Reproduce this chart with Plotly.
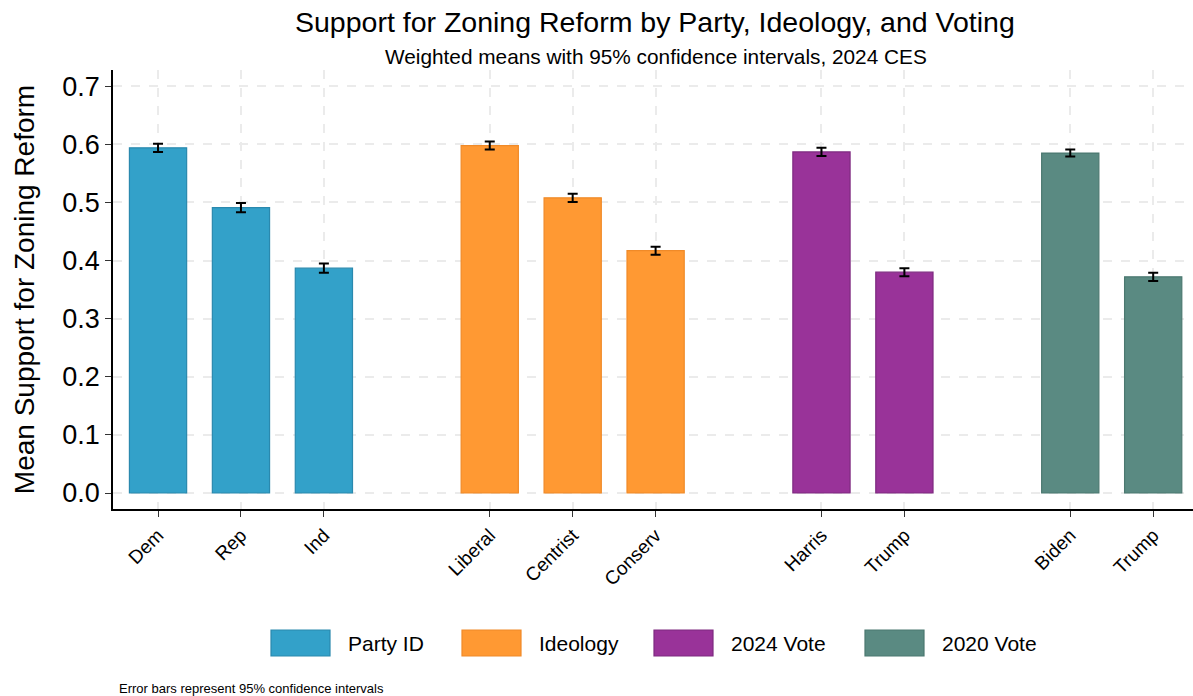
import plotly.graph_objects as go

# Data
groups = ["Party ID", "Ideology", "2024 Vote", "2020 Vote"]
group_labels = [["Dem", "Rep", "Ind"], ["Liberal", "Centrist", "Conserv"], ["Harris", "Trump"], ["Biden", "Trump"]]
group_pos = [[1, 2, 3], [5, 6, 7], [9, 10], [12, 13]]
group_means = [[0.594, 0.491, 0.387], [0.598, 0.508, 0.417], [0.587, 0.380], [0.585, 0.372]]
group_ci = [[0.007, 0.008, 0.008], [0.007, 0.007, 0.007], [0.007, 0.007], [0.006, 0.007]]
fill_colors = ["#33A1C9", "#FF9933", "#993399", "#5A8A82"]
line_colors = ["#2A89AE", "#F08A28", "#7E2A80", "#4B7870"]

fig = go.Figure()
for g, lab, pos, m, ci, fc, lc in zip(groups, group_labels, group_pos, group_means, group_ci, fill_colors, line_colors):
    fig.add_trace(go.Bar(
        x=pos, y=m, name=g, width=0.69,
        marker=dict(color=fc, line=dict(color=lc, width=1.2)),
        error_y=dict(type="data", array=ci, visible=True, color="black", thickness=2, width=5),
        showlegend=False,
    ))

tickvals = [p for pos in group_pos for p in pos]
ticktext = [l for lab in group_labels for l in lab]

font_family = "Liberation Sans, Arial, sans-serif"

fig.update_layout(
    width=1193, height=696,
    margin=dict(l=113, r=0, t=70, b=187),
    paper_bgcolor="white", plot_bgcolor="white",
    font=dict(family=font_family, color="black"),
    xaxis=dict(
        range=[0.457, 13.48], tickvals=tickvals, ticktext=ticktext, tickangle=-45,
        tickfont=dict(size=19), showline=True, linecolor="black", linewidth=1.5,
        ticks="outside", ticklen=6, tickcolor="#333",
        showgrid=True, gridcolor="#EBEBEB", griddash="dash", gridwidth=1.5,
        zeroline=False,
    ),
    yaxis=dict(
        range=[-0.0275, 0.728], tickvals=[0, 0.1, 0.2, 0.3, 0.4, 0.5, 0.6, 0.7],
        ticktext=["0.0", "0.1", "0.2", "0.3", "0.4", "0.5", "0.6", "0.7"],
        tickfont=dict(size=27), showline=True, linecolor="black", linewidth=1.5,
        ticks="outside", ticklen=6, tickcolor="#333",
        showgrid=True, gridcolor="#EBEBEB", griddash="dash", gridwidth=1.5,
        zeroline=False,
        title=dict(text="Mean Support for Zoning Reform", font=dict(size=28), standoff=20),
    ),
    bargap=0.3,
)

# Title and subtitle
fig.add_annotation(xref="paper", yref="paper", x=(655 - 113) / 1080, y=(509 - 22) / 439,
                   text="Support for Zoning Reform by Party, Ideology, and Voting", showarrow=False,
                   xanchor="center", yanchor="middle", font=dict(size=28.5, family=font_family))
fig.add_annotation(xref="paper", yref="paper", x=(656 - 113) / 1080, y=(509 - 56) / 439,
                   text="Weighted means with 95% confidence intervals, 2024 CES", showarrow=False,
                   xanchor="center", yanchor="middle", font=dict(size=20.8, family=font_family))

# Custom legend (wide rectangles like the reference)
legend_box_x = [271, 462, 654, 865]
for g, fc, lc, bx in zip(groups, fill_colors, line_colors, legend_box_x):
    fig.add_shape(type="rect", xref="paper", yref="paper",
                  x0=(bx - 113) / 1080, x1=(bx + 59 - 113) / 1080,
                  y0=(509 - 656) / 439, y1=(509 - 630) / 439,
                  fillcolor=fc, line=dict(color=lc, width=1.2))
    fig.add_annotation(xref="paper", yref="paper",
                       x=(bx + 75 - 113) / 1080, y=(509 - 643) / 439,
                       text=g, showarrow=False, xanchor="left", yanchor="middle",
                       font=dict(size=21, family=font_family))

fig.add_annotation(xref="paper", yref="paper", x=(117 - 113) / 1080, y=(509 - 688) / 439,
                   text="Error bars represent 95% confidence intervals", showarrow=False,
                   xanchor="left", yanchor="middle", font=dict(size=13, family=font_family))

fig.write_html("out.html")
